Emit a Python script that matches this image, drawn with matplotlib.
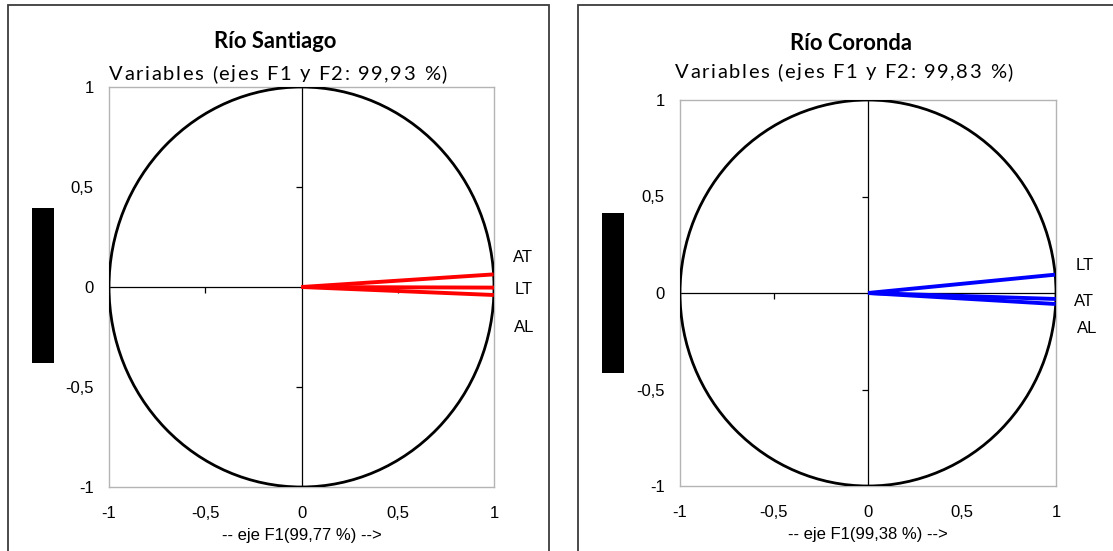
import matplotlib
matplotlib.use("Agg")
import matplotlib.pyplot as plt
from matplotlib.patches import Circle, Rectangle

# correlation of each variable with the first two factors
santiago_vars = ["AT", "LT", "AL"]
santiago_f1 = [0.998, 0.9999, 0.999]
santiago_f2 = [0.063, -0.003, -0.040]

coronda_vars = ["LT", "AT", "AL"]
coronda_f1 = [0.995, 0.999, 0.998]
coronda_f2 = [0.095, -0.031, -0.057]

ticks = [-1, -0.5, 0, 0.5, 1]
tick_labels = ["-1", "-0,5", "0", "0,5", "1"]

W, H = 1113, 551


def px_box(x0, y0, x1, y1):
    """pixel box (top-left origin) -> figure fraction [l, b, w, h]"""
    return [x0 / W, 1 - y1 / H, (x1 - x0) / W, (y1 - y0) / H]


def spaced_text(fig, xc, yc, s, track=1.2, **kw):
    """centered text with extra space between letters (in pixels)"""
    r = fig.canvas.get_renderer()
    widths = []
    for ch in s:
        t = fig.text(0, 0, ch.replace(" ", "\u00a0"), **kw)
        widths.append(t.get_window_extent(r).width)
        t.remove()
    total = sum(widths) + track * (len(s) - 1)
    x = xc - total / 2
    for ch, w in zip(s, widths):
        if ch != " ":
            fig.text(x / W, 1 - yc / H, ch, ha="left", va="center", **kw)
        x += w + track


def draw_panel(ax, names, f1, f2, color, label_xy, xlabel):
    ax.set_xlim(-1, 1)
    ax.set_ylim(-1, 1)
    for side in ax.spines.values():
        side.set_color("#b4b4b4")
        side.set_linewidth(1.0)
    ax.set_xticks(ticks, tick_labels)
    ax.set_yticks(ticks, tick_labels)
    ax.tick_params(length=0, labelsize=12, colors="black")
    ax.tick_params(axis="x", pad=14)
    ax.tick_params(axis="y", pad=11)
    for lab in ax.get_xticklabels() + ax.get_yticklabels():
        lab.set_family("Liberation Sans")
    ax.set_xlabel(xlabel, fontsize=12, family="Liberation Sans", labelpad=5)

    # zero axes with small tick marks
    ax.axhline(0, color="black", lw=0.9, zorder=2)
    ax.axvline(0, color="black", lw=0.9, zorder=2)
    ax.plot([0, 0], [-0.5, 0.5], ls="none", marker=0, ms=4, mew=0.9, color="black")
    ax.plot([-0.5, 0.5], [0, 0], ls="none", marker=3, ms=4, mew=0.9, color="black")

    # unit correlation circle
    ax.add_patch(Circle((0, 0), 1, fill=False, ec="black", lw=2.0, zorder=3))

    for name, x, y, (lx, ly) in zip(names, f1, f2, label_xy):
        ax.plot([0, x], [0, y], color=color, lw=2.8, solid_capstyle="butt", zorder=4)
        ax.text(lx, ly, name, ha="center", va="center", fontsize=12,
                family="Liberation Sans", clip_on=False)


fig = plt.figure(figsize=(W / 100, H / 100), dpi=100)

# panel borders
for x0, x1 in [(8, 549), (578, 1125)]:
    fig.add_artist(Rectangle((x0 / W, -0.1), (x1 - x0) / W, 1.1 - 5 / H,
                             transform=fig.transFigure, fill=False,
                             ec="#3c3c3c", lw=1.3, clip_on=False))

# black boxes beside the y axes
for x0, y0, x1, y1 in [(32, 208, 54, 363), (602, 213, 624, 373)]:
    fig.add_artist(Rectangle(px_box(x0, y0, x1, y1)[:2],
                             (x1 - x0) / W, (y1 - y0) / H,
                             transform=fig.transFigure, fc="black", ec="none"))

ax1 = fig.add_axes(px_box(109, 87, 494, 487))
draw_panel(ax1, santiago_vars, santiago_f1, santiago_f2, "#ff0000",
           [(1.148, 0.145), (1.153, -0.015), (1.158, -0.20)],
           "-- eje F1(99,77 %) -->")

ax2 = fig.add_axes(px_box(680, 100, 1056, 486))
draw_panel(ax2, coronda_vars, coronda_f1, coronda_f2, "#0000ff",
           [(1.154, 0.14), (1.149, -0.042), (1.165, -0.182)],
           "-- eje F1(99,38 %) -->")

fig.text(275 / W, 1 - 42 / H, "Río Santiago", ha="center", va="center",
         fontsize=15.8, fontweight="bold", family="Lato")
fig.text(851 / W, 1 - 44 / H, "Río Coronda", ha="center", va="center",
         fontsize=15.8, fontweight="bold", family="Lato")
spaced_text(fig, 278, 74, "Variables (ejes F1 y F2: 99,93 %)", track=1.6,
            fontsize=14.5, family="Lato")
spaced_text(fig, 844, 72, "Variables (ejes F1 y F2: 99,83 %)", track=1.6,
            fontsize=14.5, family="Lato")

fig.savefig("out.png", dpi=100)
